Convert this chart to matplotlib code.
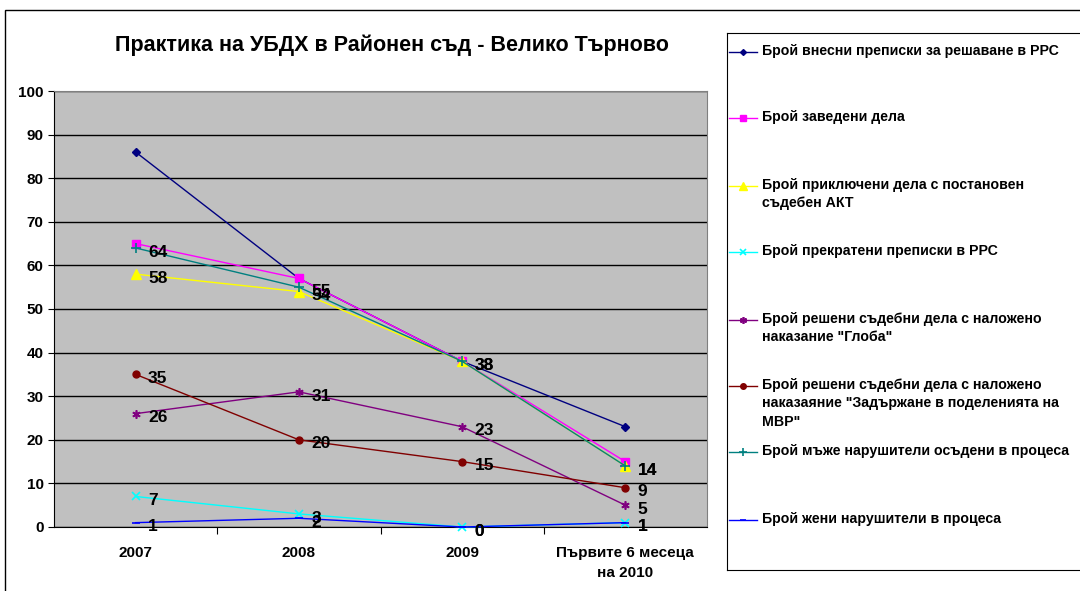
import matplotlib
matplotlib.use("Agg")
import matplotlib.pyplot as plt
from matplotlib.lines import Line2D
from matplotlib.patches import Rectangle

categories = ["2007", "2008", "2009", "Първите 6 месеца\nна 2010"]

s_vnesni = [86, 57, 38, 23]
s_zavedeni = [65, 57, 38, 15]
s_prikl = [58, 54, 38, 14]
s_prekrat = [7, 3, 0, 1]
s_globa = [26, 31, 23, 5]
s_zadarj = [35, 20, 15, 9]
s_maje = [64, 55, 38, 14]
s_jeni = [1, 2, 0, 1]

labels = [
    "Брой внесни преписки за решаване в РРС",
    "Брой заведени дела",
    "Брой приключени дела с постановен\nсъдебен АКТ",
    "Брой прекратени преписки в РРС",
    "Брой решени съдебни дела с наложено\nнаказание \"Глоба\"",
    "Брой решени съдебни дела с наложено\nнаказаяние \"Задържане в поделенията на\nМВР\"",
    "Брой мъже нарушители осъдени в процеса",
    "Брой жени нарушители в процеса",
]
series = [s_vnesni, s_zavedeni, s_prikl, s_prekrat, s_globa, s_zadarj, s_maje, s_jeni]
colors = ["#000080", "#FF00FF", "#FFFF00", "#00FFFF", "#800080", "#800000", "#008080", "#0000FF"]
markers = ["D", "s", "^", "x", (6, 2, 0), "o", "+", "_"]
msizes = [4, 6, 7, 6, 6, 5, 7, 6]
show_labels = [False, False, True, True, True, True, True, True]

plt.rcParams['font.family'] = ['Liberation Sans', 'DejaVu Sans']
plt.rcParams['font.weight'] = 'bold'

W, H = 1080, 591
fig = plt.figure(figsize=(W / 100, H / 100), dpi=100)

# outer chart border
fig.patches.append(Rectangle((5 / W, -0.01), 1.1, (H - 10) / H + 0.01, transform=fig.transFigure,
                             fill=False, edgecolor="black", linewidth=1))

ax = fig.add_axes([54 / W, (H - 527) / H, (707 - 54) / W, (527 - 91) / H])
ax.set_facecolor("#C0C0C0")
x = list(range(len(categories)))
for s, c, m, ms, lab, show in zip(series, colors, markers, msizes, labels, show_labels):
    ax.plot(x, s, color=c, marker=m, markersize=ms, linewidth=1,
            markeredgewidth=1.2 if m in ("x", "+", "_", (6, 2, 0)) else 1,
            markerfacecolor=c, markeredgecolor=c, clip_on=False, zorder=3)
    if show:
        for xi, yi in zip(x, s):
            ax.annotate(str(yi), (xi, yi), xytext=(9, -3), textcoords="offset points",
                        fontsize=12.5, fontweight="bold", va="center", ha="left", zorder=4)

ax.set_xlim(-0.5, 3.5)
ax.set_ylim(0, 100)
ax.set_yticks(range(0, 101, 10))
ax.yaxis.grid(True, color="black", linewidth=1)
ax.set_axisbelow(True)
ax.set_xticks([0.5, 1.5, 2.5], minor=False)
ax.set_xticklabels([])
ax.set_xticks(x, minor=True)
ax.set_xticklabels(categories, minor=True, fontsize=11, fontweight="bold", linespacing=1.5)
ax.tick_params(axis="x", which="minor", length=0, pad=14)
ax.tick_params(axis="x", which="major", length=5, direction="out")
ax.tick_params(axis="y", length=4, labelsize=11, direction="out")
for lbl in ax.get_yticklabels():
    lbl.set_fontweight("bold")
for side in ["top", "right"]:
    ax.spines[side].set_color("#808080")
ax.spines["left"].set_color("black")
ax.spines["bottom"].set_color("black")

fig.text(392 / W, 1 - 45 / H, "Практика на УБДХ в Районен съд - Велико Търново",
         fontsize=15.5, fontweight="bold", ha="center", va="center")

# legend
lax = fig.add_axes([727 / W, (H - 570) / H, 1 - 727 / W + 0.02, (570 - 33) / H])
lax.set_xlim(727, 1100)
lax.set_ylim(570, 33)
lax.set_facecolor("white")
for sp in lax.spines.values():
    sp.set_color("black")
lax.set_xticks([])
lax.set_yticks([])
entry_y = [52, 118, 186, 252, 320, 386, 452, 520]
for yy, c, m, ms, lab in zip(entry_y, colors, markers, msizes, labels):
    lax.add_line(Line2D([729, 757], [yy, yy], color=c, linewidth=1))
    lax.add_line(Line2D([743], [yy], color=c, marker=m, markersize=ms - 1,
                        markerfacecolor=c, markeredgecolor=c,
                        markeredgewidth=1.2 if m in ("x", "+", "_", (6, 2, 0)) else 1))
    lax.text(762, yy - 8, lab, fontsize=10.2, fontweight="bold", va="top", ha="left",
             linespacing=1.4)

fig.savefig("out.png", dpi=100)
